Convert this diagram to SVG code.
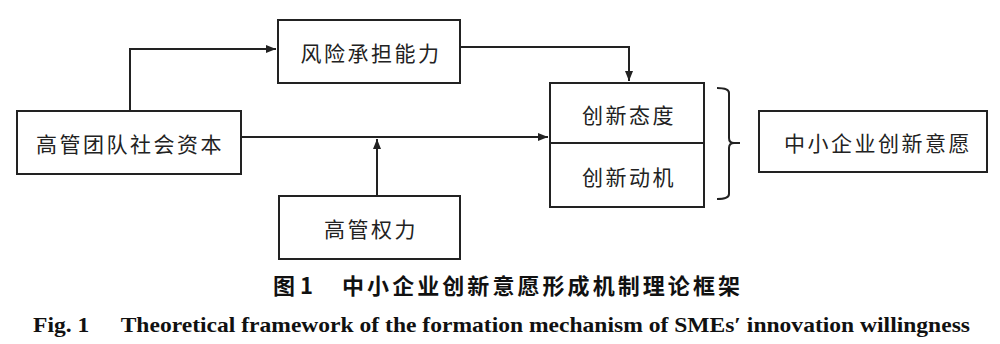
<svg xmlns="http://www.w3.org/2000/svg" width="1000" height="344" viewBox="0 0 1000 344">
<defs>
<marker id="ah" markerWidth="10" markerHeight="8" refX="10" refY="4" orient="auto" markerUnits="userSpaceOnUse">
<path d="M0,0 L10,4 L0,8 Z" fill="#222"/>
</marker>
<style>
.box{fill:#fff;stroke:#222;stroke-width:2}
.lbl{font-family:"Noto Sans CJK SC","Noto Sans CJK JP",sans-serif;font-size:21px;fill:#222;text-anchor:middle;dominant-baseline:central;letter-spacing:2.5px}
.con{fill:none;stroke:#222;stroke-width:2}
.cap1{font-family:"Noto Sans CJK SC",sans-serif;font-size:22px;font-weight:bold;fill:#111}
.cap2{font-family:"Liberation Serif",serif;font-size:21px;font-weight:bold;fill:#111}
</style>
</defs>
<rect width="1000" height="344" fill="#fff"/>
<g id="connectors">
<path class="con" d="M130,111 V49 H276" marker-end="url(#ah)"/>
<path class="con" d="M460,47 H629 V81" marker-end="url(#ah)"/>
<path class="con" d="M241,137 H548" marker-end="url(#ah)"/>
<path class="con" d="M377,196 V139" marker-end="url(#ah)"/>
<path class="con" d="M717,88 Q729,88 729,93 V138 Q729,143 734,143 H740 M734,143 Q729,143 729,148 V194 Q729,199 717,199"/>
</g>
<g id="risk">
<rect class="box" x="278" y="20" width="182" height="63"/>
<text class="lbl" x="371" y="52">风险承担能力</text>
</g>
<g id="social">
<rect class="box" x="17" y="111" width="224" height="63"/>
<text class="lbl" x="130" y="143">高管团队社会资本</text>
</g>
<g id="power">
<rect class="box" x="279" y="196" width="181" height="63"/>
<text class="lbl" x="371" y="228">高管权力</text>
</g>
<g id="innovation">
<rect class="box" x="550" y="83" width="154" height="124"/>
<line class="con" x1="550" y1="143" x2="704" y2="143"/>
<text class="lbl" x="629" y="114">创新态度</text>
<text class="lbl" x="629" y="176">创新动机</text>
</g>
<g id="willingness">
<rect class="box" x="759" y="111" width="228" height="61"/>
<text class="lbl" x="878" y="142">中小企业创新意愿</text>
</g>
<g id="captions">
<text class="cap1" x="273" y="294">图 1</text>
<text class="cap1" x="342" y="294" textLength="398" lengthAdjust="spacing">中小企业创新意愿形成机制理论框架</text>
<text class="cap2" x="33" y="332" textLength="937" lengthAdjust="spacingAndGlyphs">Fig. 1<tspan dx="28">Theoretical framework of the formation mechanism of SMEs′ innovation willingness</tspan></text>
</g>
</svg>
